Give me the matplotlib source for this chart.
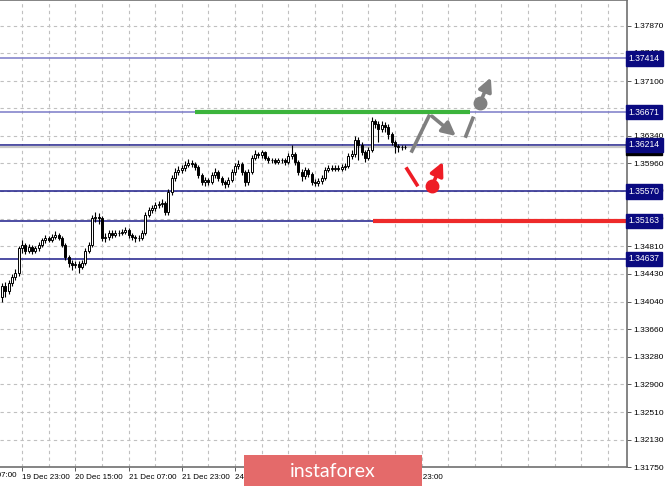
import matplotlib
matplotlib.use("Agg")
import numpy as np
import matplotlib.pyplot as plt
from matplotlib.patches import Rectangle

plt.rcParams["font.family"] = ["Liberation Sans", "DejaVu Sans"]

# H1 candles (prices)
closes = [1.3426, 1.3419, 1.3430, 1.3438, 1.3444, 1.3478, 1.3483, 1.3475, 1.3480, 1.3475,
          1.3478, 1.3483, 1.3489, 1.3492, 1.3490, 1.3494, 1.3497, 1.3492, 1.3483, 1.3466,
          1.3458, 1.3455, 1.3457, 1.3452, 1.3458, 1.3475, 1.3483, 1.3520, 1.3522, 1.3520,
          1.3492, 1.3494, 1.3500, 1.3497, 1.3500, 1.3499, 1.3501, 1.3503, 1.3497, 1.3494,
          1.3492, 1.3493, 1.3500, 1.3525, 1.3531, 1.3534, 1.3538, 1.3539, 1.3541, 1.3528,
          1.3556, 1.3576, 1.3584, 1.3587, 1.3590, 1.3594, 1.3597, 1.3595, 1.3591, 1.3580,
          1.3570, 1.3573, 1.3570, 1.3580, 1.3584, 1.3576, 1.3570, 1.3567, 1.3573, 1.3584,
          1.3592, 1.3595, 1.3584, 1.3570, 1.3584, 1.3604, 1.3609, 1.3608, 1.3611, 1.3604,
          1.3601, 1.3600, 1.3598, 1.3600, 1.3601, 1.3598, 1.3606, 1.3609, 1.3598, 1.3584,
          1.3578, 1.3587, 1.3581, 1.3570, 1.3569, 1.3571, 1.3576, 1.3587, 1.3590, 1.3588,
          1.3590, 1.3588, 1.3591, 1.3592, 1.3606, 1.3609, 1.3629, 1.3622, 1.3612, 1.3604,
          1.3615, 1.3654, 1.3651, 1.3643, 1.3649, 1.3646, 1.3636, 1.3626, 1.3620, 1.3618,
          1.3619, 1.3618]
opens = [1.3410] + closes[:-1]
highs = [1.3430, 1.3431, 1.3434, 1.3442, 1.3450, 1.3482, 1.3490, 1.3486, 1.3484, 1.3483,
         1.3482, 1.3487, 1.3493, 1.3496, 1.3495, 1.3498, 1.3502, 1.3500, 1.3495, 1.3486,
         1.3469, 1.3462, 1.3461, 1.3460, 1.3462, 1.3479, 1.3487, 1.3524, 1.3529, 1.3527,
         1.3523, 1.3499, 1.3504, 1.3503, 1.3504, 1.3503, 1.3505, 1.3508, 1.3506, 1.3500,
         1.3497, 1.3497, 1.3504, 1.3529, 1.3536, 1.3538, 1.3542, 1.3544, 1.3546, 1.3544,
         1.3560, 1.3580, 1.3590, 1.3592, 1.3594, 1.3599, 1.3602, 1.3600, 1.3598, 1.3594,
         1.3583, 1.3577, 1.3576, 1.3584, 1.3590, 1.3587, 1.3579, 1.3573, 1.3577, 1.3588,
         1.3597, 1.3600, 1.3598, 1.3587, 1.3588, 1.3608, 1.3614, 1.3612, 1.3615, 1.3613,
         1.3606, 1.3604, 1.3603, 1.3603, 1.3604, 1.3603, 1.3610, 1.3622, 1.3612, 1.3600,
         1.3588, 1.3591, 1.3590, 1.3584, 1.3574, 1.3575, 1.3580, 1.3591, 1.3594, 1.3593,
         1.3594, 1.3593, 1.3595, 1.3596, 1.3610, 1.3614, 1.3634, 1.3633, 1.3626, 1.3615,
         1.3619, 1.3660, 1.3658, 1.3655, 1.3654, 1.3653, 1.3650, 1.3640, 1.3629, 1.3623,
         1.3622, 1.3621]
lows = [1.3404, 1.3410, 1.3415, 1.3426, 1.3434, 1.3440, 1.3472, 1.3470, 1.3471, 1.3470,
        1.3472, 1.3475, 1.3480, 1.3486, 1.3487, 1.3487, 1.3491, 1.3489, 1.3480, 1.3462,
        1.3452, 1.3448, 1.3451, 1.3444, 1.3449, 1.3455, 1.3471, 1.3480, 1.3514, 1.3512,
        1.3488, 1.3487, 1.3490, 1.3493, 1.3494, 1.3495, 1.3496, 1.3498, 1.3493, 1.3490,
        1.3487, 1.3488, 1.3489, 1.3497, 1.3521, 1.3527, 1.3530, 1.3534, 1.3535, 1.3524,
        1.3525, 1.3552, 1.3572, 1.3580, 1.3583, 1.3586, 1.3591, 1.3591, 1.3587, 1.3576,
        1.3566, 1.3565, 1.3566, 1.3567, 1.3576, 1.3572, 1.3566, 1.3562, 1.3563, 1.3570,
        1.3580, 1.3588, 1.3580, 1.3565, 1.3566, 1.3581, 1.3600, 1.3603, 1.3604, 1.3600,
        1.3597, 1.3596, 1.3595, 1.3595, 1.3597, 1.3594, 1.3595, 1.3602, 1.3594, 1.3580,
        1.3572, 1.3574, 1.3577, 1.3566, 1.3564, 1.3565, 1.3567, 1.3573, 1.3584, 1.3585,
        1.3585, 1.3585, 1.3585, 1.3587, 1.3589, 1.3602, 1.3605, 1.3600, 1.3608, 1.3598,
        1.3600, 1.3612, 1.3645, 1.3625, 1.3639, 1.3640, 1.3630, 1.3622, 1.3610, 1.3612,
        1.3615, 1.3616]

price_ticks = [1.37870, 1.37490, 1.37100, 1.36720, 1.36340, 1.35960, 1.35580, 1.35190,
               1.34810, 1.34430, 1.34040, 1.33660, 1.33280, 1.32900, 1.32510, 1.32130, 1.31750]
levels = [1.37414, 1.36671, 1.36214, 1.35570, 1.35163, 1.34637]
bid = 1.36185

time_pos = [-10, 6, 22, 38, 54, 70, 86, 102, 118]
time_labels = ["19 Dec 07:00", "19 Dec 23:00", "20 Dec 15:00", "21 Dec 07:00", "21 Dec 23:00",
               "24 Dec 23:00", "25 Dec 15:00", "26 Dec 07:00", "26 Dec 23:00"]

# forecast drawings (bar index, price)
green_x, green_y = [58, 140.5], 1.36671
red_x, red_y = [111.4, 190], 1.35163
grey_leg1 = ([123.1, 128.2], [1.36131, 1.36613])
grey_arrow1 = ([129.1, 136.3], [1.36613, 1.36338])
grey_leg2 = ([139.3, 141.4], [1.36338, 1.36585])
grey_arrow2 = ([143.5, 146.8], [1.36792, 1.37150])
red_leg = ([121.6, 124.6], [1.35883, 1.35663])
red_arrow = ([129.1, 132.4], [1.35649, 1.35980])

fig = plt.figure(figsize=(6.65, 4.86), dpi=100)
ax = fig.add_axes([0, 19 / 486, 627 / 665, 467 / 486])
x_end = 627 / 3.33 - 0.6

# grid
for p in price_ticks:
    ax.axhline(p, color="#c0c0c0", lw=0.8, ls=(0, (3, 3)), zorder=0)
for g in np.arange(-2, x_end, 8):
    ax.axvline(g, color="#c0c0c0", lw=0.8, ls=(0, (3, 3)), zorder=0)

# levels
for lv in levels:
    col = "#7a7ac8" if lv in (1.37414, 1.36671) else "#1c1c8a"
    ax.axhline(lv, color=col, lw=1.1, zorder=1)
ax.axhline(bid, color="#c8c8c8", lw=1.6, zorder=1)
ax.plot(green_x, [green_y] * 2, color="#3cb43c", lw=3, solid_capstyle="butt", zorder=2)
ax.plot(red_x, [red_y] * 2, color="#ee2a2a", lw=3, solid_capstyle="butt", zorder=2)

# candles
n = np.arange(len(closes))
o, c = np.array(opens), np.array(closes)
ax.vlines(n, lows, highs, color="black", lw=0.8, zorder=3)
up = c >= o
ax.bar(n[up], (c - o)[up], bottom=o[up], width=0.6, facecolor="white",
       edgecolor="black", lw=0.7, zorder=4)
ax.bar(n[~up], (c - o)[~up], bottom=o[~up], width=0.6, facecolor="black",
       edgecolor="black", lw=0.7, zorder=4)

# forecast arrows
grey = "#808080"
ax.plot(*grey_leg1, color=grey, lw=2.6, zorder=5)
ax.plot(*grey_leg2, color=grey, lw=2.6, zorder=5)
for (xs, ys), col in [(grey_arrow1, grey), (grey_arrow2, grey), (red_arrow, "#ee1c25")]:
    ax.annotate("", xy=(xs[1], ys[1]), xytext=(xs[0], ys[0]),
                arrowprops=dict(arrowstyle="-|>,head_length=0.8,head_width=0.4",
                                color=col, lw=2.6, shrinkA=0, shrinkB=0), zorder=5)
ax.plot(*red_leg, color="#ee1c25", lw=2.6, zorder=5)
ax.plot(grey_arrow2[0][0], grey_arrow2[1][0], "o", color=grey, ms=9, zorder=6)
ax.plot(red_arrow[0][0], red_arrow[1][0], "o", color="#ee1c25", ms=9, zorder=6)

# axes styling
ax.spines["left"].set_visible(False)
for s in ["top", "right", "bottom"]:
    ax.spines[s].set_color("#707070")
    ax.spines[s].set_linewidth(1.2)
ax.yaxis.tick_right()
ax.set_yticks(price_ticks)
ax.set_yticklabels([f"{p:.5f}" for p in price_ticks], fontsize=6)
ax.tick_params(axis="y", length=3, width=0.6, color="#404040", pad=1.5)
ax.set_xticks(time_pos[1:])
ax.set_xticklabels(time_labels[1:], fontsize=5.8, ha="left")
ax.tick_params(axis="x", length=3, width=0.6, color="#404040", pad=2)
ax.set_xlim(-0.6, x_end)
ax.set_ylim(1.31750, 1.38224)
# first time label sits left of the window and is cut by the edge
ax.text(time_pos[0], -5 / 467, time_labels[0], transform=ax.get_xaxis_transform(),
        fontsize=5.8, ha="left", va="top", clip_on=False)

# price level tags
for lv in levels:
    ax.text(1.003, lv, f"{lv:.5f}", transform=ax.get_yaxis_transform(), fontsize=6.2,
            color="white", va="center", ha="left", zorder=10, clip_on=False,
            bbox=dict(boxstyle="square,pad=0.3", fc="#0a0a80", ec="#0a0a80"))
ax.text(1.003, bid - 0.0001, f"{bid:.5f}", transform=ax.get_yaxis_transform(), fontsize=6.2,
        color="white", va="center", ha="left", zorder=9, clip_on=False,
        bbox=dict(boxstyle="square,pad=0.3", fc="black", ec="black"))

# watermark
fig.patches.append(Rectangle((244 / 665, 0), 178 / 665, 31 / 486, transform=fig.transFigure,
                             facecolor="#e46a6a", edgecolor="none", zorder=20))
fig.text(333 / 665, 15 / 486, "instaforex", color="white", fontsize=14, family="Lato",
         ha="center", va="center", zorder=21)

plt.savefig("out.png", dpi=100)
